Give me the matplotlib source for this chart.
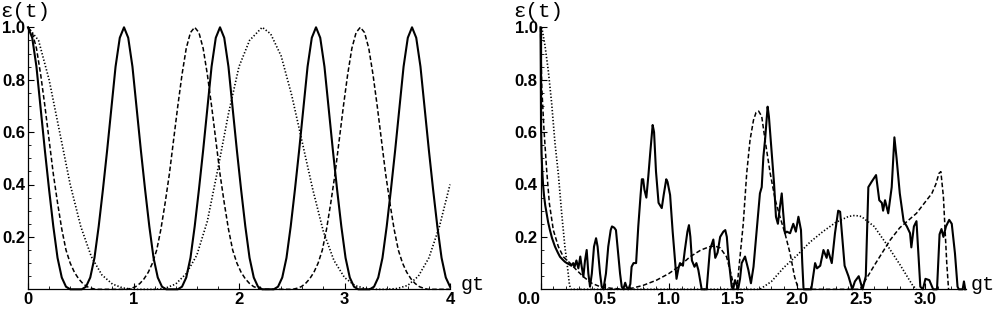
import matplotlib
matplotlib.use("Agg")
import matplotlib.pyplot as plt
from matplotlib.ticker import MultipleLocator

# ---- left panel data ----
solid_t = [0.00, 0.04, 0.08, 0.12, 0.16, 0.20, 0.24, 0.28, 0.32, 0.36, 0.40,
           0.51, 0.55, 0.59, 0.63, 0.67, 0.71, 0.75, 0.79, 0.83, 0.87, 0.91,
           0.95, 0.99, 1.03, 1.07, 1.11, 1.15, 1.19, 1.23, 1.27, 1.31,
           1.42, 1.46, 1.50, 1.54, 1.58, 1.62, 1.66, 1.70, 1.74, 1.78, 1.82,
           1.86, 1.90, 1.94, 1.98, 2.02, 2.06, 2.10, 2.14, 2.18, 2.22,
           2.33, 2.37, 2.41, 2.45, 2.49, 2.53, 2.57, 2.61, 2.65, 2.69, 2.73,
           2.77, 2.81, 2.85, 2.89, 2.93, 2.97, 3.01, 3.05, 3.09, 3.13,
           3.24, 3.28, 3.32, 3.36, 3.40, 3.44, 3.48, 3.52, 3.56, 3.60, 3.64,
           3.68, 3.72, 3.76, 3.80, 3.84, 3.88, 3.92, 3.96, 4.00]
solid_v = [1.00, 0.96, 0.85, 0.69, 0.53, 0.38, 0.24, 0.12, 0.045, 0.01, 0.00,
           0.00, 0.01, 0.045, 0.12, 0.24, 0.38, 0.53, 0.69, 0.85, 0.96, 1.00,
           0.96, 0.85, 0.69, 0.53, 0.38, 0.24, 0.12, 0.045, 0.01, 0.00,
           0.00, 0.01, 0.045, 0.12, 0.24, 0.38, 0.53, 0.69, 0.85, 0.96, 1.00,
           0.96, 0.85, 0.69, 0.53, 0.38, 0.24, 0.12, 0.045, 0.01, 0.00,
           0.00, 0.01, 0.045, 0.12, 0.24, 0.38, 0.53, 0.69, 0.85, 0.96, 1.00,
           0.96, 0.85, 0.69, 0.53, 0.38, 0.24, 0.12, 0.045, 0.01, 0.00,
           0.00, 0.01, 0.045, 0.12, 0.24, 0.38, 0.53, 0.69, 0.85, 0.96, 1.00,
           0.96, 0.85, 0.69, 0.53, 0.38, 0.24, 0.12, 0.045, 0.01]

dash_t = [0.00, 0.04, 0.08, 0.12, 0.16, 0.20, 0.24, 0.28, 0.32, 0.36, 0.40, 0.44, 0.48, 0.52, 0.56, 0.60, 0.64,
          0.94, 0.98, 1.02, 1.06, 1.10, 1.14, 1.18, 1.22, 1.26, 1.30, 1.34, 1.38, 1.42, 1.46, 1.50, 1.54, 1.58,
          1.62, 1.66, 1.70, 1.74, 1.78, 1.82, 1.86, 1.90, 1.94, 1.98, 2.02, 2.06, 2.10, 2.14, 2.18, 2.22,
          2.51, 2.55, 2.59, 2.63, 2.67, 2.71, 2.75, 2.79, 2.83, 2.87, 2.91, 2.95, 2.99, 3.03, 3.07, 3.11, 3.15,
          3.19, 3.23, 3.27, 3.31, 3.35, 3.39, 3.43, 3.47, 3.51, 3.55, 3.59, 3.63, 3.67, 3.71, 3.75, 3.79, 4.00]
dash_v = [1.00, 0.98, 0.92, 0.82, 0.70, 0.57, 0.44, 0.33, 0.23, 0.15, 0.10, 0.065, 0.04, 0.022, 0.01, 0.004, 0.00,
          0.00, 0.004, 0.01, 0.022, 0.04, 0.065, 0.10, 0.15, 0.23, 0.33, 0.44, 0.57, 0.70, 0.82, 0.92, 0.98, 1.00,
          0.98, 0.92, 0.82, 0.70, 0.57, 0.44, 0.33, 0.23, 0.15, 0.10, 0.065, 0.04, 0.022, 0.01, 0.004, 0.00,
          0.00, 0.004, 0.01, 0.022, 0.04, 0.065, 0.10, 0.15, 0.23, 0.33, 0.44, 0.57, 0.70, 0.82, 0.92, 0.98, 1.00,
          0.98, 0.92, 0.82, 0.70, 0.57, 0.44, 0.33, 0.23, 0.15, 0.10, 0.065, 0.04, 0.022, 0.01, 0.004, 0.00, 0.00]

dot_t = [0.0, 0.1, 0.2, 0.3, 0.4, 0.5, 0.6, 0.7, 0.8, 0.9, 1.0, 1.1, 1.2, 1.3, 1.4, 1.5, 1.6,
         1.7, 1.8, 1.9, 2.0, 2.1, 2.22, 2.3, 2.4, 2.5, 2.6, 2.7, 2.8, 2.9, 3.0, 3.1, 3.2,
         3.3, 3.4, 3.5, 3.6, 3.7, 3.8, 3.9, 4.0]
dot_v = [1.0, 0.95, 0.80, 0.60, 0.40, 0.24, 0.125, 0.055, 0.02, 0.005, 0.0, 0.0, 0.0, 0.004, 0.02, 0.06, 0.13,
         0.26, 0.46, 0.67, 0.85, 0.95, 1.0, 0.975, 0.89, 0.74, 0.56, 0.38, 0.22, 0.11, 0.045, 0.014, 0.003,
         0.0, 0.0, 0.003, 0.015, 0.05, 0.12, 0.24, 0.40]

# ---- right panel data ----
r_solid_t = [0.000, 0.002, 0.004, 0.008, 0.014, 0.020, 0.027, 0.037, 0.048, 0.060, 0.074, 0.090,
             0.113, 0.135, 0.152, 0.175, 0.190, 0.205, 0.225, 0.240, 0.255, 0.265, 0.280, 0.295,
             0.310, 0.320, 0.334, 0.347, 0.360, 0.373, 0.386, 0.400, 0.417, 0.433, 0.445, 0.464,
             0.477, 0.490, 0.510, 0.528, 0.547, 0.557, 0.575, 0.588, 0.600, 0.620, 0.633, 0.645,
             0.660, 0.670, 0.685, 0.700, 0.710, 0.725, 0.745, 0.762, 0.780, 0.790, 0.800, 0.810,
             0.825, 0.840, 0.855, 0.874, 0.885, 0.900, 0.920, 0.945, 0.960, 0.980, 0.990, 1.010,
             1.030, 1.050, 1.060, 1.075, 1.087, 1.110, 1.125, 1.145, 1.157, 1.168, 1.180, 1.200,
             1.215, 1.230, 1.256, 1.295, 1.320, 1.347, 1.362, 1.380, 1.400, 1.425, 1.440, 1.452,
             1.465, 1.490, 1.500, 1.516, 1.540, 1.555, 1.568, 1.594, 1.620, 1.640, 1.660, 1.685,
             1.710, 1.724, 1.737, 1.750, 1.770, 1.780, 1.800, 1.820, 1.835, 1.850, 1.866, 1.880,
             1.890, 1.905, 1.920, 1.945, 1.970, 1.990, 2.010, 2.030, 2.040, 2.050, 2.110, 2.140,
             2.155, 2.180, 2.205, 2.230, 2.240, 2.270, 2.295, 2.320, 2.335, 2.360, 2.370, 2.400,
             2.430, 2.450, 2.480, 2.510, 2.535, 2.555, 2.580, 2.615, 2.640, 2.660, 2.670, 2.685,
             2.710, 2.737, 2.758, 2.775, 2.800, 2.830, 2.855, 2.880, 2.890, 2.910, 2.930, 2.945,
             2.960, 2.980, 3.000, 3.030, 3.060, 3.090, 3.110, 3.125, 3.140, 3.160, 3.185, 3.205,
             3.230, 3.250, 3.260, 3.290, 3.300, 3.310]
r_solid_v = [1.00, 0.85, 0.62, 0.52, 0.45, 0.40, 0.36, 0.32, 0.29, 0.255, 0.225, 0.195,
             0.163, 0.14, 0.124, 0.112, 0.105, 0.10, 0.095, 0.09, 0.10, 0.085, 0.11, 0.08,
             0.125, 0.09, 0.048, 0.11, 0.15, 0.06, 0.01, 0.06, 0.163, 0.195, 0.163, 0.06,
             0.01, 0.0, 0.06, 0.163, 0.226, 0.24, 0.235, 0.226, 0.163, 0.06, 0.01, 0.0,
             0.025, 0.01, 0.0, 0.02, 0.086, 0.10, 0.10, 0.24, 0.36, 0.42, 0.42, 0.38,
             0.35, 0.43, 0.52, 0.627, 0.60, 0.45, 0.33, 0.31, 0.36, 0.42, 0.41, 0.36,
             0.22, 0.10, 0.04, 0.08, 0.10, 0.09, 0.15, 0.22, 0.245, 0.20, 0.11, 0.086,
             0.10, 0.074, 0.0, 0.0, 0.15, 0.19, 0.12, 0.14, 0.20, 0.22, 0.226, 0.20,
             0.12, 0.01, 0.0, 0.035, 0.0, 0.04, 0.10, 0.125, 0.074, 0.023, 0.086, 0.226,
             0.366, 0.39, 0.506, 0.57, 0.697, 0.66, 0.53, 0.405, 0.277, 0.25, 0.315, 0.366,
             0.30, 0.214, 0.22, 0.214, 0.25, 0.22, 0.277, 0.226, 0.10, 0.0, 0.0, 0.10,
             0.08, 0.09, 0.15, 0.12, 0.15, 0.10, 0.214, 0.30, 0.296, 0.15, 0.09, 0.05,
             0.0, 0.03, 0.05, 0.0, 0.05, 0.39, 0.41, 0.436, 0.34, 0.33, 0.30, 0.34,
             0.29, 0.39, 0.58, 0.50, 0.366, 0.26, 0.24, 0.214, 0.16, 0.24, 0.26, 0.137,
             0.01, 0.0, 0.04, 0.035, 0.0, 0.0, 0.21, 0.23, 0.20, 0.24, 0.265, 0.25,
             0.137, 0.01, 0.0, 0.0, 0.03, 0.0]

r_dash_t = [0.000, 0.010, 0.027, 0.048, 0.069, 0.100, 0.139, 0.178, 0.230, 0.280, 0.334, 0.400,
            0.464, 0.550, 0.650, 0.720, 0.800, 0.905, 1.000, 1.087, 1.165, 1.250, 1.320, 1.360,
            1.400, 1.450, 1.490, 1.510, 1.530, 1.580, 1.607, 1.633, 1.660, 1.680, 1.700, 1.724,
            1.750, 1.790, 1.830, 1.866, 1.905, 1.945, 1.980, 2.010, 2.490, 2.600, 2.725, 2.800,
            2.930, 3.050, 3.080, 3.106, 3.120, 3.140, 3.153, 3.166, 3.180]
r_dash_v = [1.00, 0.77, 0.61, 0.455, 0.328, 0.226, 0.163, 0.124, 0.10, 0.074, 0.048, 0.023,
            0.01, 0.004, 0.0, 0.005, 0.015, 0.035, 0.06, 0.09, 0.124, 0.15, 0.163, 0.165,
            0.158, 0.124, 0.048, 0.0, 0.0, 0.25, 0.443, 0.57, 0.646, 0.675, 0.68, 0.66,
            0.57, 0.443, 0.34, 0.277, 0.214, 0.137, 0.048, 0.0, 0.0, 0.09, 0.188, 0.235,
            0.29, 0.366, 0.40, 0.443, 0.449, 0.353, 0.226, 0.10, 0.0]

r_dot_t = [0.010, 0.035, 0.060, 0.087, 0.113, 0.139, 0.165, 0.190, 0.210, 0.225, 0.235,
           1.71, 1.80, 1.90, 2.00, 2.10, 2.20, 2.30, 2.40, 2.45, 2.50, 2.60, 2.70, 2.80, 2.90, 2.93]
r_dot_v = [1.0, 0.93, 0.837, 0.71, 0.557, 0.44, 0.29, 0.163, 0.086, 0.02, 0.0,
           0.0, 0.03, 0.085, 0.13, 0.18, 0.22, 0.255, 0.278, 0.282, 0.278, 0.24, 0.17, 0.095, 0.015, 0.0]

left_xticks = [0, 1, 2, 3, 4]
left_xlabels = ["0", "1", "2", "3", "4"]
right_xticks = [0.0, 0.5, 1.0, 1.5, 2.0, 2.5, 3.0]
right_xlabels = ["0.0", "0.5", "1.0", "1.5", "2.0", "2.5", "3.0"]
yticks = [0.2, 0.4, 0.6, 0.8, 1.0]
ylabels = ["0.2", "0.4", "0.6", "0.8", "1.0"]

W, H = 999, 309
fig = plt.figure(figsize=(W / 100, H / 100), dpi=100)
fig.patch.set_facecolor("white")

ax1 = fig.add_axes([28 / W, 19.7 / H, 422 / W, 262 / H])
ax2 = fig.add_axes([540.5 / W, 19.7 / H, 425.5 / W, 262 / H])

solid_kw = dict(color="black", lw=1.5, clip_on=False, solid_joinstyle="round")
dash_kw = dict(color="black", lw=1.1, dashes=(3, 1.6), clip_on=False)
dot_kw = dict(color="black", lw=1.2, dashes=(0.8, 1.2), clip_on=False)

ax1.plot(solid_t, solid_v, **solid_kw)
ax1.plot(dash_t, dash_v, **dash_kw)
ax1.plot(dot_t, dot_v, **dot_kw)

ax2.plot(r_solid_t, r_solid_v, **solid_kw)
ax2.plot(r_dash_t, r_dash_v, **dash_kw)
ax2.plot(r_dot_t, r_dot_v, **dot_kw)

tick_font = {"family": "Liberation Sans", "size": 12, "weight": "bold"}
for ax, xt, xl, xmax, xminor in [(ax1, left_xticks, left_xlabels, 4.0, 0.2),
                                  (ax2, right_xticks, right_xlabels, 3.316, 0.1)]:
    ax.set_xlim(0, xmax)
    ax.set_ylim(0, 1.0)
    ax.set_xticks(xt)
    ax.set_xticklabels(xl, fontdict=tick_font)
    ax.set_yticks(yticks)
    ax.set_yticklabels(ylabels, fontdict=tick_font)
    ax.xaxis.set_minor_locator(MultipleLocator(xminor))
    ax.yaxis.set_minor_locator(MultipleLocator(0.05))
    ax.tick_params(which="major", direction="in", length=4, width=0.8, pad=2)
    ax.tick_params(which="minor", direction="in", length=2, width=0.6)
    for s in ["top", "right"]:
        ax.spines[s].set_visible(False)
    for s in ["left", "bottom"]:
        ax.spines[s].set_linewidth(0.9)
    ax.set_facecolor("none")

# the origin label of the right panel sits left of its tick
ax2.get_xticklabels()[0].set_horizontalalignment("right")

mono = ["Liberation Mono", "DejaVu Sans Mono"]
fig.text(0 / W, 1 - 2 / H, "ε(t)", family=mono, fontsize=15, va="top", ha="left")
fig.text(513 / W, 1 - 2 / H, "ε(t)", family=mono, fontsize=15, va="top", ha="left")
fig.text(461 / W, 1 - 290 / H, "gt", family=mono, fontsize=14.5, va="baseline", ha="left")
fig.text(971 / W, 1 - 290 / H, "gt", family=mono, fontsize=14.5, va="baseline", ha="left")

fig.savefig("out.png", dpi=100, facecolor="white")
